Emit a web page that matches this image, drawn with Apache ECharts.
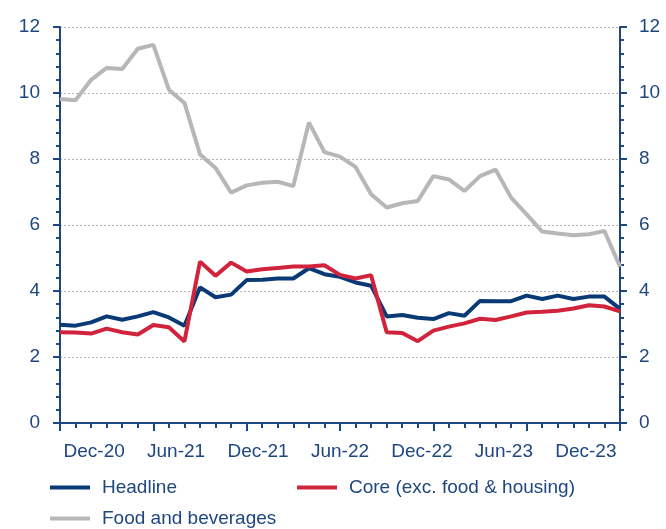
<!DOCTYPE html>
<html>
<head>
<meta charset="utf-8">
<script src="https://cdn.jsdelivr.net/npm/echarts@6/dist/echarts.min.js"></script>
<style>
  html, body { margin: 0; padding: 0; background: #fff; }
  #chart { width: 666px; height: 529px; }
</style>
</head>
<body>
<div id="chart"></div>
<script>
// month slots used only for the axis labels (Oct-20 .. Feb-24)
var months = ['Oct-20','Nov-20','Dec-20','Jan-21','Feb-21','Mar-21','Apr-21','May-21','Jun-21','Jul-21',
  'Aug-21','Sep-21','Oct-21','Nov-21','Dec-21','Jan-22','Feb-22','Mar-22','Apr-22','May-22',
  'Jun-22','Jul-22','Aug-22','Sep-22','Oct-22','Nov-22','Dec-22','Jan-23','Feb-23','Mar-23',
  'Apr-23','May-23','Jun-23','Jul-23','Aug-23','Sep-23','Oct-23','Nov-23','Dec-23','Jan-24','Feb-24'];
var shownLabels = ['Dec-20','Jun-21','Dec-21','Jun-22','Dec-22','Jun-23','Dec-23'];

// series values
var headline = [2.98, 2.95, 3.05, 3.23, 3.13, 3.23, 3.36, 3.20, 2.95, 4.11, 3.81, 3.89, 4.33, 4.34, 4.38, 4.38, 4.69, 4.51, 4.43,
  4.26, 4.16, 3.23, 3.27, 3.19, 3.15, 3.33, 3.25, 3.70, 3.69, 3.69, 3.86, 3.76, 3.86, 3.76, 3.83, 3.83, 3.46];
var core = [2.75, 2.74, 2.71, 2.86, 2.75, 2.68, 2.97, 2.90, 2.47, 4.89, 4.46, 4.86, 4.59, 4.66, 4.70, 4.74, 4.74, 4.78, 4.49,
  4.38, 4.48, 2.75, 2.73, 2.48, 2.80, 2.92, 3.02, 3.16, 3.12, 3.23, 3.35, 3.37, 3.40, 3.47, 3.57, 3.53, 3.38];
var food = [9.82, 9.78, 10.40, 10.76, 10.73, 11.34, 11.46, 10.10, 9.70, 8.14, 7.73, 6.98, 7.20, 7.28, 7.31, 7.18, 9.11, 8.21, 8.07,
  7.76, 6.93, 6.53, 6.66, 6.73, 7.48, 7.38, 7.03, 7.48, 7.68, 6.83, 6.32, 5.80, 5.74, 5.69, 5.72, 5.82, 4.74];

var points = headline.map(function (v, i) { return String(i); });

var navy = '#1E4680';
var font = 'Liberation Sans, Arial, sans-serif';

var myChart = echarts.init(document.getElementById('chart'));

function legendAt(name, left, top) {
  return {
    data: [name], left: left, top: top, padding: 0,
    icon: 'rect', itemWidth: 40, itemHeight: 4,
    textStyle: { color: navy, fontSize: 19, fontFamily: font, padding: [0, 0, 0, 7] }
  };
}

var option = {
  animation: false,
  grid: { left: 60, right: 46, top: 27, bottom: 106 },
  legend: [
    legendAt('Headline', 50, 478),
    legendAt('Core (exc. food & housing)', 297, 478),
    legendAt('Food and beverages', 50, 509)
  ],
  xAxis: [
    {
      type: 'category', data: points, boundaryGap: false, position: 'bottom',
      axisLine: { lineStyle: { color: navy, width: 2 } },
      axisTick: { interval: 0, length: 5, lineStyle: { color: navy, width: 2 } },
      axisLabel: { show: false }, splitLine: { show: false }
    },
    {
      type: 'category', data: points, boundaryGap: false, position: 'bottom',
      axisLine: { show: false },
      axisTick: { interval: 5, length: 8, lineStyle: { color: navy, width: 2 } },
      axisLabel: { show: false }, splitLine: { show: false }
    },
    {
      type: 'category', data: months, boundaryGap: true, position: 'bottom',
      axisLine: { show: false }, axisTick: { show: false },
      axisLabel: {
        interval: function (i, v) { return shownLabels.indexOf(v) >= 0; },
        color: navy, fontSize: 19, fontFamily: font, margin: 19
      },
      splitLine: { show: false }
    }
  ],
  yAxis: [
    {
      type: 'value', min: 0, max: 12, interval: 2, position: 'left',
      axisLine: { show: true, lineStyle: { color: navy, width: 2 } },
      axisTick: { show: true, length: 7, lineStyle: { color: navy, width: 2 } },
      minorTick: { show: true, splitNumber: 5, length: 4, lineStyle: { color: navy, width: 2 } },
      axisLabel: { color: navy, fontSize: 19, fontFamily: font, margin: 20 },
      splitLine: { show: true, lineStyle: { color: '#b5b5b5', type: [2, 2], width: 1 } }
    },
    {
      type: 'value', min: 0, max: 12, interval: 2, position: 'right',
      axisLine: { show: true, lineStyle: { color: navy, width: 2 } },
      axisTick: { show: true, length: 7, lineStyle: { color: navy, width: 2 } },
      minorTick: { show: true, splitNumber: 5, length: 4, lineStyle: { color: navy, width: 2 } },
      axisLabel: { color: navy, fontSize: 19, fontFamily: font, margin: 19 },
      splitLine: { show: false }
    }
  ],
  series: [
    {
      name: 'Headline', type: 'line', data: headline, symbol: 'none',
      itemStyle: { color: '#0A3A75' }, lineStyle: { color: '#0A3A75', width: 4 }
    },
    {
      name: 'Core (exc. food & housing)', type: 'line', data: core, symbol: 'none',
      itemStyle: { color: '#D2233C' }, lineStyle: { color: '#D2233C', width: 4 }
    },
    {
      name: 'Food and beverages', type: 'line', data: food, symbol: 'none',
      itemStyle: { color: '#B7B7B7' }, lineStyle: { color: '#B7B7B7', width: 4 }
    }
  ]
};

myChart.setOption(option);
</script>
</body>
</html>
